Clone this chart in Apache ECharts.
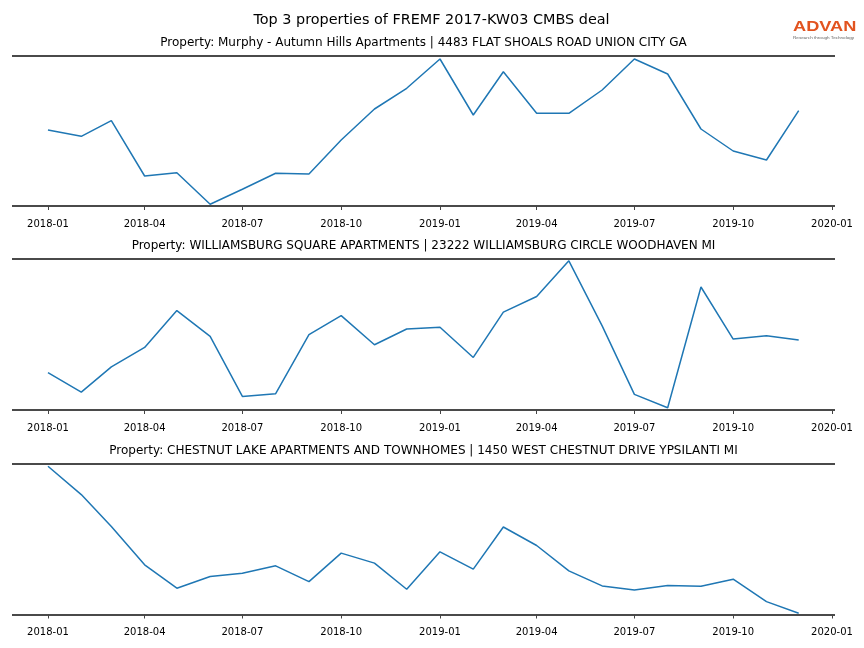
<!DOCTYPE html>
<html><head><meta charset="utf-8">
<script src="https://cdn.jsdelivr.net/npm/echarts@6/dist/echarts.min.js"></script>
<style>html,body{margin:0;padding:0;background:#fff}#c{width:864px;height:648px}</style>
</head><body><div id="c"></div>
<script>
const months = ["2018-01","2018-02","2018-03","2018-04","2018-05","2018-06","2018-07","2018-08","2018-09","2018-10","2018-11","2018-12",
"2019-01","2019-02","2019-03","2019-04","2019-05","2019-06","2019-07","2019-08","2019-09","2019-10","2019-11","2019-12"];
const tickLabels = ["2018-01","2018-04","2018-07","2018-10","2019-01","2019-04","2019-07","2019-10","2020-01"];
const mainTitle = "Top 3 properties of FREMF 2017-KW03 CMBS deal";
const titles = [
 "Property: Murphy - Autumn Hills Apartments | 4483 FLAT SHOALS ROAD UNION CITY GA",
 "Property: WILLIAMSBURG SQUARE APARTMENTS | 23222 WILLIAMSBURG CIRCLE WOODHAVEN MI",
 "Property: CHESTNUT LAKE APARTMENTS AND TOWNHOMES | 1450 WEST CHESTNUT DRIVE YPSILANTI MI"
];
const series1 = [76,69.7,85.3,30,33.3,1.7,16.7,32.7,32,66,97,117.7,147,91,134.3,92.7,92.7,116,147,132,77,55,46,95.3];
const series2 = [37.2,17.8,42.8,62.2,98.8,73.2,13.5,16.2,74.8,93.8,64.8,80.5,82.2,52.2,97.2,112.8,148.2,83.5,15.5,2.2,122.2,70.5,73.8,69.5];
const series3 = [147.8,119.5,87.8,49.5,26.2,37.8,41.2,48.5,32.8,61.2,51.2,25.2,62.5,45.2,87.2,68.8,43.5,28.5,24.5,28.8,28.2,35.2,12.8,1.2];
const allSeries = [series1, series2, series3];

function ts(s){ const p = s.split("-"); return Date.UTC(+p[0], +p[1]-1, 1); }
const tickVals = tickLabels.map(ts);
const DAY = 86400000;
const xMin = ts("2018-01") - 33.5*DAY;
const xMax = ts("2020-01") + 2.8*DAY;
const pad = n => (n<10?"0":"")+n;

const gridTops = [56, 259, 464];
const gridHs = [150, 151, 150.5];
const font = "DejaVu Sans";
const spineColor = "#4a4a4a";

const grids = [], xAxes = [], yAxes = [], ser = [];
const graphics = [];
graphics.push({type: "text", x: 431.5, y: 20, style: {text: mainTitle, fontFamily: font, fontSize: 14.4, fill: "#000", textAlign: "center", textVerticalAlign: "middle"}});
gridTops.forEach((t, i) => {
  grids.push({left: 12, right: 29, top: t, height: gridHs[i]});
  graphics.push({type: "text", x: 423.5, y: t - 13, style: {text: titles[i], fontFamily: font, fontSize: 12, fill: "#000", textAlign: "center", textVerticalAlign: "middle"}});
  xAxes.push({
    type: "value", gridIndex: i, min: xMin, max: xMax, scale: true, offset: 5,
    axisLine: {show: false},
    axisTick: {show: true, customValues: tickVals, length: 4, lineStyle: {color: "#444", width: 1}},
    axisLabel: {customValues: tickVals, fontFamily: font, fontSize: 10, color: "#000", margin: 8,
      formatter: v => { const d = new Date(v); return d.getUTCFullYear() + "-" + pad(d.getUTCMonth()+1); }},
    splitLine: {show: false}
  });
  yAxes.push({
    type: "value", gridIndex: i, min: 0, max: 150, interval: 150,
    axisLine: {show: false}, axisTick: {show: false}, axisLabel: {show: false},
    splitLine: {show: true, lineStyle: {color: spineColor, width: 2}}
  });
  ser.push({
    type: "line", xAxisIndex: i, yAxisIndex: i, showSymbol: false, symbol: "none",
    lineStyle: {color: "#1f77b4", width: 1.5},
    data: months.map((m, k) => [ts(m), allSeries[i][k]])
  });
});
graphics.push({type: "text", x: 793, y: 27.5, scaleX: 1.3, style: {text: "ADVAN", fontFamily: "Liberation Sans", fontSize: 14, fontWeight: "bold", fill: "#e2531f", textVerticalAlign: "middle"}});
graphics.push({type: "text", x: 793, y: 37.5, scaleX: 1.15, style: {text: "Research through Technology", fontFamily: "Liberation Sans", fontSize: 4, fill: "#666", textVerticalAlign: "middle"}});

const chart = echarts.init(document.getElementById("c"), null, {renderer: "canvas"});
chart.setOption({
  animation: false,
  grid: grids, xAxis: xAxes, yAxis: yAxes, series: ser,
  graphic: graphics
});
</script></body></html>
